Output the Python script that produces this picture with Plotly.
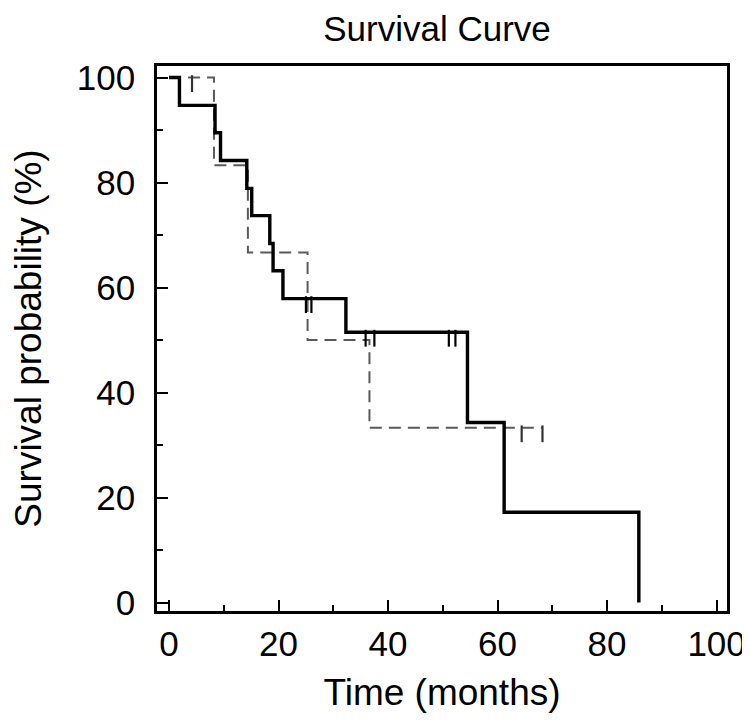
import plotly.graph_objects as go

# Kaplan-Meier curves (time in months, survival in %)
solid_time = [0, 1.9, 8.4, 9.4, 14.2, 15.1, 18.4, 19.0, 20.8, 32.3, 54.5, 61.2, 85.8]
solid_surv = [100, 94.7, 89.5, 84.2, 78.9, 73.7, 68.4, 63.2, 57.9, 51.5, 34.3, 17.2, 0]
solid_censor = [25.0, 26.0, 35.9, 37.5, 51.1, 52.3]

dashed_time = [0, 8.2, 14.4, 25.3, 36.6, 68.2]
dashed_surv = [100, 83.3, 66.7, 50.0, 33.3, 33.3]
dashed_censor = [4.2, 64.4, 68.2]

x_ticks = [0, 20, 40, 60, 80, 100]
y_ticks = [0, 20, 40, 60, 80, 100]


def step_level(times, surv, t):
    level = surv[0]
    for ti, si in zip(times, surv):
        if ti <= t:
            level = si
    return level


TICK_OFFSET = 1.15  # censor ticks hang just below the curve

FONT = "Liberation Sans, Arial, sans-serif"

fig = go.Figure()

fig.add_trace(go.Scatter(
    x=dashed_time, y=dashed_surv, mode="lines", line_shape="hv",
    line=dict(color="#5a5a5a", width=2, dash="12px,7px"), showlegend=False))
fig.add_trace(go.Scatter(
    x=dashed_censor,
    y=[step_level(dashed_time, dashed_surv, t) - TICK_OFFSET for t in dashed_censor],
    mode="markers",
    marker=dict(symbol="line-ns", size=12, line=dict(color="#333333", width=2.2)),
    showlegend=False))

fig.add_trace(go.Scatter(
    x=solid_time, y=solid_surv, mode="lines", line_shape="hv",
    line=dict(color="black", width=3.4), showlegend=False))
fig.add_trace(go.Scatter(
    x=solid_censor,
    y=[step_level(solid_time, solid_surv, t) - TICK_OFFSET for t in solid_censor],
    mode="markers",
    marker=dict(symbol="line-ns", size=12, line=dict(color="black", width=2.2)),
    showlegend=False))

axis_common = dict(
    showgrid=False, zeroline=False, showline=True, mirror=True,
    linecolor="black", linewidth=2.5,
    ticks="inside", ticklen=11, tickwidth=2.2, tickcolor="black",
    tickfont=dict(family=FONT, size=35, color="black"),
    minor=dict(ticks="inside", ticklen=6, tickwidth=2, tickcolor="black", dtick=10),
)

fig.update_xaxes(
    range=[-2.2, 101.9], tickvals=x_ticks, ticktext=[str(v) for v in x_ticks],
    title=dict(text="Time (months)", font=dict(family=FONT, size=37, color="black"), standoff=18),
    **axis_common)
fig.update_yaxes(
    range=[-1.6, 102.2], tickvals=y_ticks, ticktext=[str(v) for v in y_ticks],
    ticklabelstandoff=12,
    title=dict(text="Survival probability (%)", font=dict(family=FONT, size=37, color="black"), standoff=26),
    **axis_common)

fig.update_layout(
    width=750, height=722,
    margin=dict(l=149, r=26, t=58, b=119),
    paper_bgcolor="white", plot_bgcolor="white",
    title=dict(text="Survival Curve", font=dict(family=FONT, size=35, color="black"),
               x=0.572, xanchor="center", y=1 - 21 / 722, yanchor="middle", yref="container"),
)

fig.write_html("out.html")
